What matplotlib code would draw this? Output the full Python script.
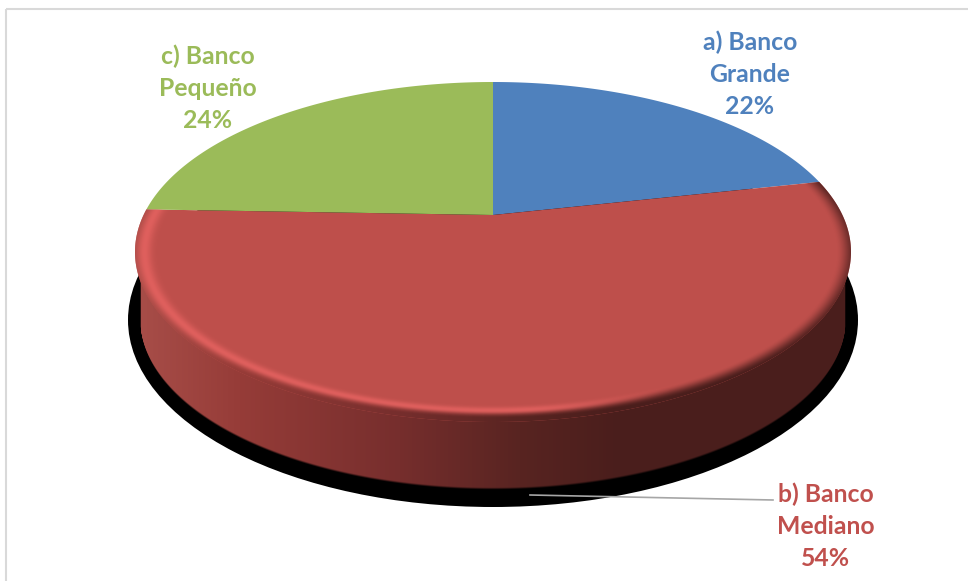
import matplotlib
matplotlib.use("Agg")
import matplotlib.pyplot as plt
import numpy as np
from matplotlib.patches import Ellipse, Polygon

labels = ["a) Banco\nGrande", "b) Banco\nMediano", "c) Banco\nPequeño"]
shares = [22, 54, 24]
colors = ["#4F81BD", "#BE4F4B", "#9BBB59"]
text_colors = ["#4F81BD", "#C0504D", "#9BBB59"]
label_pos = [(750, 74), (826, 526), (208, 88)]

W, H = 968, 581
CX, CY, RX, RY = 493, 252, 358, 170
APEX_Y = 215
DEPTH = 68
TILT = 0.013


def project(frac):
    # tilted disc: fraction of the way round, clockwise from 12 o'clock
    t = np.asarray(frac) * 2 * np.pi
    x, y = np.sin(t), np.cos(t)
    c = CY - APEX_Y
    k = c / RY
    b = (RY - c) * (1 + k)
    a = RX * np.sqrt(1 - k ** 2)
    d = 1 + k * y
    dx = a * x / d
    dy = -(b * y / d) - TILT * dx
    # walk along the ray from the apex until it meets the rim ellipse
    qa = (dx / RX) ** 2 + (dy / RY) ** 2
    qb = 2 * (APEX_Y - CY) * dy / RY ** 2
    qc = ((APEX_Y - CY) / RY) ** 2 - 1
    s = (-qb + np.sqrt(qb ** 2 - 4 * qa * qc)) / (2 * qa)
    return CX + s * dx, APEX_Y + s * dy


def lerp_colors(x, stops, cols):
    return np.stack([np.interp(x, stops, [c[i] for c in cols]) for i in range(3)], axis=-1)


def smooth(v):
    v = np.clip(v, 0, 1)
    return v * v * (3 - 2 * v)


fig = plt.figure(figsize=(W / 100, H / 100), dpi=100)
ax = fig.add_axes([0, 0, 1, 1])
ax.axis("off")

yy, xx = np.mgrid[0:H, 0:W] + 0.5

# frame
ax.plot([6, 6], [H, 9], color="#D9D9D9", lw=1.5, zorder=1, solid_capstyle="butt")
ax.plot([6, W], [9, 9], color="#D9D9D9", lw=1.5, zorder=1, solid_capstyle="butt")

# drop shadow under the disc
ax.add_patch(Ellipse((CX, CY + DEPTH), 730, 374, facecolor="black", edgecolor="none", zorder=2))

# side wall, dark towards the right
wall_stops = [135, 240, 400, 520, 620, 855]
wall_cols = [(168, 78, 73), (150, 60, 56), (118, 46, 45), (88, 36, 33), (74, 30, 28), (74, 30, 28)]
wall_rgb = lerp_colors(xx, wall_stops, wall_cols) / 255
bx = np.clip((xx - CX) / 353, -1, 1)
bottom_edge = CY + DEPTH + RY * np.sqrt(1 - bx ** 2)
wall_alpha = smooth((bottom_edge - yy) / 3) * smooth((353 - np.abs(xx - CX)) / 1.5)
wall_alpha[yy < CY] = 0
ax.imshow(np.dstack([wall_rgb, wall_alpha]), extent=(0, W, H, 0), aspect="auto", zorder=3)

# top face slices
edges = np.cumsum([0] + shares) / sum(shares)
red_poly = None
for i, (start, end) in enumerate(zip(edges[:-1], edges[1:])):
    px, py = project(np.linspace(start, end, 300))
    pts = np.vstack([[CX, APEX_Y], np.column_stack([px, py])])
    poly = Polygon(pts, closed=True, facecolor=colors[i], edgecolor="none", zorder=4)
    ax.add_patch(poly)
    if i == 1:
        red_poly = poly

# rounded rim on the large slice: dark outer band plus a light ridge
rim = np.sqrt(((xx - CX) / 352) ** 2 + ((yy - CY) / 160) ** 2)
dark_alpha = smooth((rim - 0.975) / 0.065)
dark_img = ax.imshow(np.dstack([wall_rgb, dark_alpha]), extent=(0, W, H, 0), aspect="auto", zorder=5)
dark_img.set_clip_path(red_poly)

fade = smooth((690 - xx) / 170)
ridge_alpha = np.exp(-((rim - 0.99) / 0.02) ** 2) * fade * 0.8
ridge_rgb = np.ones((H, W, 3)) * np.array([232, 100, 98]) / 255
ridge_img = ax.imshow(np.dstack([ridge_rgb, ridge_alpha]), extent=(0, W, H, 0), aspect="auto", zorder=6)
ridge_img.set_clip_path(red_poly)

# leader line for the middle slice
ax.plot([530, 773], [495, 500], color="#A6A6A6", lw=1.2, zorder=7)

for lab, share, col, pos in zip(labels, shares, text_colors, label_pos):
    ax.text(pos[0], pos[1], f"{lab}\n{share}%", color=col, ha="center", va="center",
            family="Lato", weight="bold", fontsize=17.8, linespacing=1.47, zorder=8)

ax.set_xlim(0, W)
ax.set_ylim(H, 0)
fig.savefig("out.png", dpi=100)
